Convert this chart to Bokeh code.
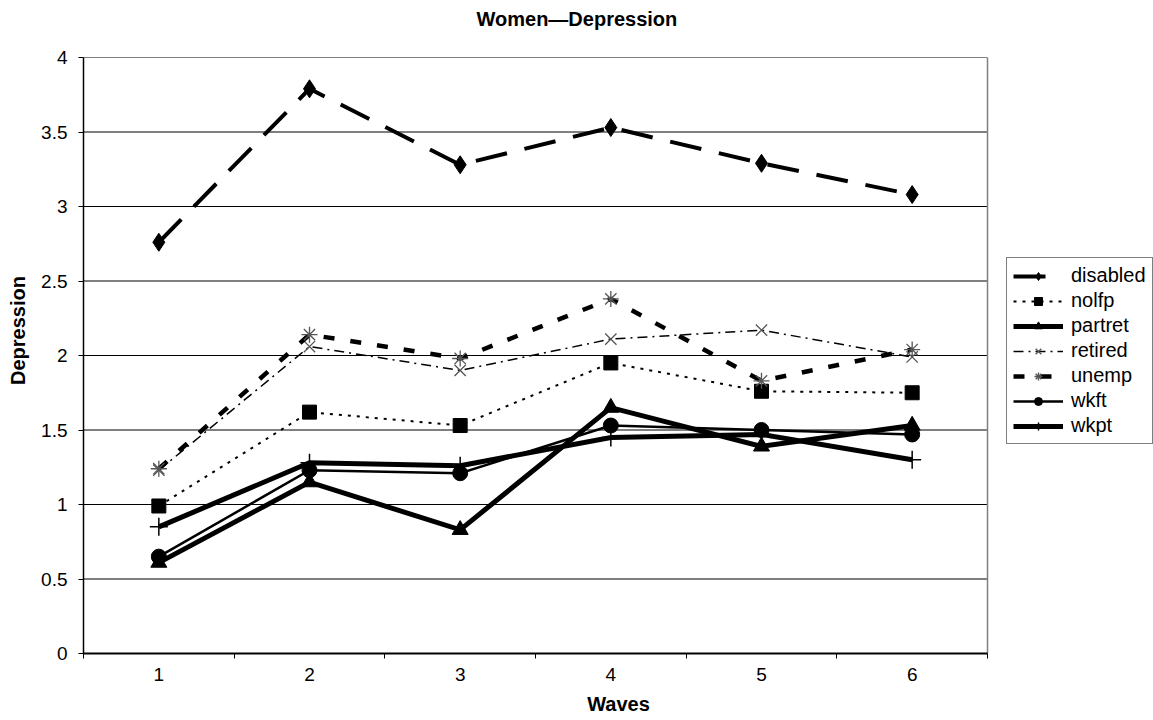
from bokeh.plotting import figure
from bokeh.models import Range1d, FixedTicker, CustomJSTickFormatter, Legend, LegendItem, Title
from bokeh.embed import file_html
from bokeh.resources import INLINE

# Mean depression score per survey wave, by employment status (women)
waves = [1, 2, 3, 4, 5, 6]
disabled = [2.76, 3.79, 3.28, 3.53, 3.29, 3.08]
nolfp = [0.99, 1.62, 1.53, 1.95, 1.76, 1.75]
partret = [0.61, 1.15, 0.83, 1.65, 1.39, 1.53]
retired = [1.23, 2.06, 1.90, 2.11, 2.17, 1.99]
unemp = [1.24, 2.14, 1.98, 2.38, 1.83, 2.04]
wkft = [0.65, 1.23, 1.21, 1.53, 1.50, 1.47]
wkpt = [0.85, 1.28, 1.26, 1.45, 1.47, 1.30]

y_ticks = [0, 0.5, 1, 1.5, 2, 2.5, 3, 3.5, 4]

FONT = "Liberation Sans"

# Layout: the plotting frame runs to the right edge of the canvas so the
# legend can sit beside the chart area; the chart area itself is bounded
# to waves 0.5..6.5 (83..987 px on screen).
W, H = 1153, 720
LEFT, AREA_RIGHT, TOP, BOTTOM = 83, 987, 57, 67
x_lo = waves[0] - 0.5
x_hi = waves[-1] + 0.5
px_per_unit = (AREA_RIGHT - LEFT) / (x_hi - x_lo)
x_frame_end = x_hi + (W - AREA_RIGHT) / px_per_unit

p = figure(
    width=W, height=H,
    output_backend="svg", toolbar_location=None,
    x_range=Range1d(x_lo, x_frame_end), y_range=Range1d(0, 4),
    min_border_left=LEFT, min_border_right=0,
    min_border_top=TOP, min_border_bottom=BOTTOM,
)
p.background_fill_color = "white"
p.border_fill_color = "white"
p.outline_line_color = None

# blank strip between the title and the plot area
p.add_layout(Title(text=" ", text_font_size="15px", standoff=4), "above")
# chart title, centred on the canvas
p.add_layout(Title(text="Women\u2014Depression", text_font=FONT, text_font_size="20px",
                   text_font_style="bold", text_color="black", align="left",
                   offset=393, standoff=8, vertical_align="middle"), "above")

# horizontal grid lines and right border of the chart area
p.xgrid.grid_line_color = None
p.ygrid.grid_line_color = None
grid_y = y_ticks[1:]
p.segment(x0=[x_lo] * len(grid_y), y0=grid_y, x1=[x_hi] * len(grid_y), y1=grid_y,
          line_color="black", line_width=1)
p.segment(x0=[x_hi], y0=[y_ticks[0]], x1=[x_hi], y1=[y_ticks[-1]],
          line_color="#808080", line_width=1.5)

# y axis (title sits a little above the middle of the axis)
p.yaxis.ticker = FixedTicker(ticks=y_ticks)
p.yaxis.formatter = CustomJSTickFormatter(code="return String(Number(tick.toFixed(2)))")
p.yaxis.axis_label = "\u00a0" * 9 + "Depression"
p.yaxis.axis_line_color = "black"
p.yaxis.axis_line_width = 1.5
p.yaxis.major_tick_in = 0
p.yaxis.major_tick_out = 5
p.yaxis.major_tick_line_color = "black"
p.yaxis.minor_tick_line_color = None
p.yaxis.major_label_standoff = 11
p.yaxis.axis_label_standoff = 9

# x axis: labels at wave centres, tick marks on the boundaries between waves
boundaries = [w - 0.5 for w in waves] + [waves[-1] + 0.5]
p.xaxis.ticker = FixedTicker(ticks=waves, minor_ticks=boundaries)
p.xaxis.bounds = (x_lo, x_hi)
p.xaxis.axis_label = "Waves"
p.xaxis.axis_line_color = "black"
p.xaxis.axis_line_width = 2
p.xaxis.major_tick_line_color = None
p.xaxis.minor_tick_line_color = "black"
p.xaxis.minor_tick_in = 0
p.xaxis.minor_tick_out = 5
p.xaxis.major_label_standoff = 8
p.xaxis.axis_label_standoff = 9

for ax in (p.xaxis, p.yaxis):
    ax.major_label_text_font = FONT
    ax.major_label_text_font_size = "19px"
    ax.major_label_text_color = "black"
    ax.axis_label_text_font = FONT
    ax.axis_label_text_font_size = "20px"
    ax.axis_label_text_font_style = "bold"
    ax.axis_label_text_color = "black"

series = [
    ("disabled", disabled, dict(line_width=4, line_dash="32 18"),
     "diamond", 18, dict(fill_color="black", line_color="black")),
    ("nolfp", nolfp, dict(line_width=2, line_dash="3 6"),
     "square", 14, dict(fill_color="black", line_color="black")),
    ("partret", partret, dict(line_width=5),
     "triangle", 16, dict(fill_color="black", line_color="black")),
    ("retired", retired, dict(line_width=1.5, line_dash="10 5 2 5"),
     "x", 16, dict(line_color="#555555", line_width=1.3)),
    ("unemp", unemp, dict(line_width=4.5, line_dash="11 16"),
     "asterisk", 16, dict(line_color="#555555", line_width=1.3)),
    ("wkft", wkft, dict(line_width=2.5),
     "circle", 15, dict(fill_color="black", line_color="black")),
    ("wkpt", wkpt, dict(line_width=5),
     "cross", 18, dict(line_color="black", line_width=1.5)),
]

items = []
for name, vals, lstyle, marker, msize, mstyle in series:
    lr = p.line(waves, vals, line_color="black", line_join="miter", **lstyle)
    sr = p.scatter(waves, vals, marker=marker, size=msize, **mstyle)
    items.append(LegendItem(label=name, renderers=[lr, sr]))

legend = Legend(
    items=items,
    location=(1006 - LEFT, H - BOTTOM - 444),
    label_text_font=FONT,
    label_text_font_size="20px",
    label_text_color="black",
    glyph_width=50,
    glyph_height=20,
    label_height=20,
    spacing=2,
    padding=6,
    margin=0,
    label_standoff=8,
    border_line_color="black",
    border_line_width=1,
    background_fill_color="white",
    background_fill_alpha=1,
)
p.add_layout(legend, "center")

open("out.html", "w").write(file_html(p, INLINE))
